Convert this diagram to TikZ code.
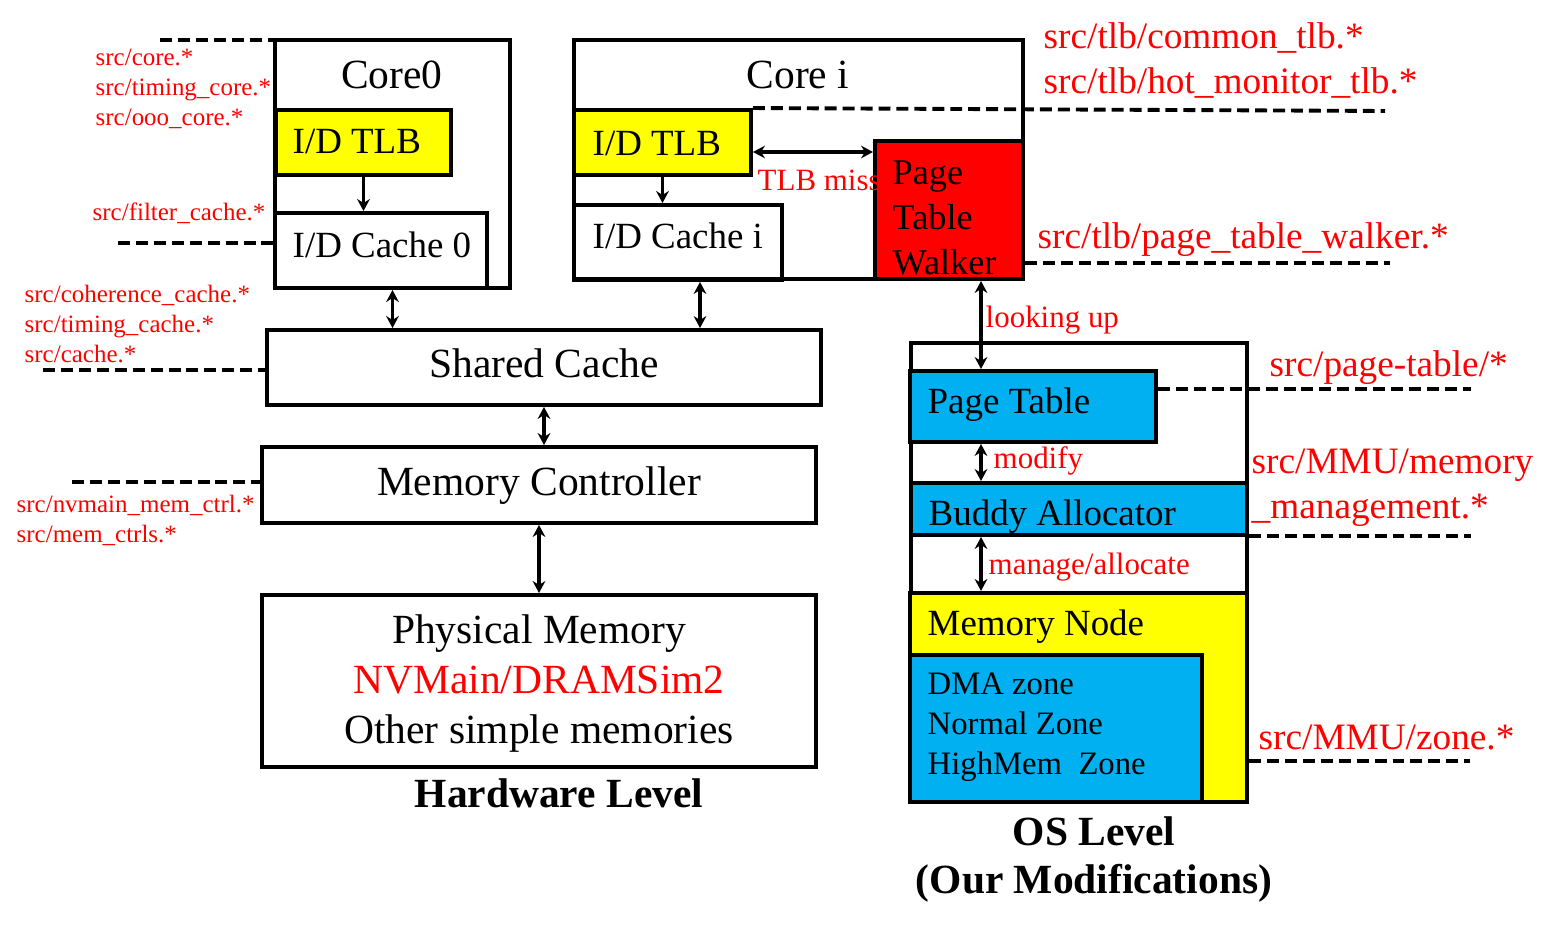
\documentclass[tikz,border=0pt]{standalone}
\usepackage{fontspec}
\setmainfont{Liberation Serif}
\usetikzlibrary{arrows.meta}

\begin{document}
\begin{tikzpicture}[x=0.01cm, y=-0.01cm,
    box/.style={draw=borderColour, line width=1.1pt, inner sep=0pt},
    lbl/.style={inner sep=0pt, font=\fontsize{11.8}{14.2}\selectfont},
    sublbl/.style={inner sep=0pt, anchor=base west, font=\fontsize{10.5}{12.8}\selectfont},
    srcnote/.style={inner sep=0pt, anchor=base west, text=noteColour, font=\fontsize{7.1}{8.5}\selectfont},
    srcbig/.style={inner sep=0pt, anchor=base west, text=noteColour, font=\fontsize{10.6}{12.7}\selectfont},
    actnote/.style={inner sep=0pt, anchor=base west, text=noteColour, font=\fontsize{8.8}{10.5}\selectfont},
    title/.style={inner sep=0pt, anchor=base, font=\fontsize{11.8}{14}\selectfont\bfseries},
    leader/.style={line width=1.1pt, dash pattern=on 3.4pt off 1.7pt},
    arrowlink/.style={line width=1.1pt, -{Stealth[length=3.4pt,width=3.6pt]}},
    duplex/.style={line width=1.1pt, {Stealth[length=3.4pt,width=3.6pt]}-{Stealth[length=3.4pt,width=3.6pt]}}]

    \definecolor{borderColour}{HTML}{000000}
    \definecolor{noteColour}{HTML}{FF0000}
    \definecolor{tlbColour}{HTML}{FFFF00}
    \definecolor{walkerColour}{HTML}{FF0000}
    \definecolor{osColour}{HTML}{00B0F0}

    % Fix the canvas
    \useasboundingbox (0,0) rectangle (1560,931);

    % Draw core 0
    \node[box, minimum width=2.35cm, minimum height=2.48cm] (coreA) at (392.5,164) {};
    \node[lbl, anchor=base] (coreAtext) at (392,89) {Core0};
    \node[box, fill=tlbColour, minimum width=1.75cm, minimum height=0.65cm] (tlbA) at (363.5,142.5) {};
    \node[sublbl] (tlbAtext) at (292,154) {I/D TLB};
    \node[box, minimum width=2.12cm, minimum height=0.75cm] (cacheA) at (381,250.5) {};
    \node[sublbl] (cacheAtext) at (292,258) {I/D Cache 0};
    \draw[arrowlink] (tlbA.south) -- (tlbA.south |- cacheA.north);

    % Draw core i
    \node[box, minimum width=4.49cm, minimum height=2.39cm] (coreB) at (798.5,159.5) {};
    \node[lbl, anchor=base] (coreBtext) at (798,89) {Core i};
    \node[box, fill=tlbColour, minimum width=1.77cm, minimum height=0.65cm] (tlbB) at (662.5,142.5) {};
    \node[sublbl] (tlbBtext) at (592,156) {I/D TLB};
    \node[box, minimum width=2.08cm, minimum height=0.75cm] (cacheB) at (678,242.5) {};
    \node[sublbl] (cacheBtext) at (592,249) {I/D Cache i};
    \node[box, fill=walkerColour, minimum width=1.48cm, minimum height=1.38cm] (walker) at (949,210) {};
    \node[inner sep=0pt, anchor=north west, align=left, font=\fontsize{10.3}{12.8}\selectfont] (walkertext) at (892,160) {Page\\Table\\Walker};
    \draw[arrowlink] (tlbB.south) -- (tlbB.south |- cacheB.north);
    \draw[duplex] ([yshift=-0.095cm]tlbB.east) -- ([yshift=-0.095cm]tlbB.east -| walker.west);
    \node[actnote] (missnote) at (757,191) {TLB miss};

    % Draw shared levels
    \node[box, minimum width=5.54cm, minimum height=0.75cm] (shared) at (544,367.5) {};
    \node[lbl, anchor=base] (sharedtext) at (544,378) {Shared Cache};
    \node[box, minimum width=5.54cm, minimum height=0.76cm] (memctrl) at (539,485) {};
    \node[lbl, anchor=base] (memctrltext) at (539,496) {Memory Controller};
    \node[box, minimum width=5.54cm, minimum height=1.72cm] (phys) at (539,681) {};
    \node[lbl, anchor=north, align=center] (phystext) at (539,614)
        {Physical Memory\\\textcolor{noteColour}{NVMain/DRAMSim2}\\Other simple memories};
    \node[title] (hwtitle) at (559,808) {Hardware Level};

    \draw[duplex] (coreA.south) -- (coreA.south |- shared.north);
    \draw[duplex] ([xshift=0.22cm]cacheB.south) -- ([xshift=0.22cm]cacheB.south |- shared.north);
    \draw[duplex] (shared.south) -- (shared.south |- memctrl.north);
    \draw[duplex] (memctrl.south) -- (phys.north);

    % Draw OS level
    \node[box, minimum width=3.36cm, minimum height=4.59cm] (os) at (1079,572.5) {};
    \node[box, fill=osColour, minimum width=2.46cm, minimum height=0.71cm] (pagetab) at (1033,406.5) {};
    \node[sublbl] (pagetabtext) at (927,414) {Page Table};
    \node[box, fill=osColour, minimum width=3.36cm, minimum height=0.52cm] (buddy) at (1079,509) {};
    \node[sublbl] (buddytext) at (928,526) {Buddy Allocator};
    \node[box, fill=tlbColour, minimum width=3.37cm, minimum height=2.09cm] (memnode) at (1078.5,697.5) {};
    \node[sublbl] (memnodetext) at (927,636) {Memory Node};
    \node[box, fill=osColour, minimum width=2.92cm, minimum height=1.47cm] (zones) at (1056,728.5) {};
    \node[inner sep=0pt, anchor=north west, align=left, font=\fontsize{9.3}{11.4}\selectfont] (zonestext) at (927,672)
        {DMA zone\\Normal Zone\\HighMem~ Zone};
    \node[title] (ostitle) at (1094,846) {OS Level};
    \node[title] (ostitleb) at (1094,894) {(Our Modifications)};

    \coordinate (lane) at (981,0);
    \draw[duplex] (walker.south -| lane) -- (pagetab.north -| lane);
    \node[actnote] (lookupnote) at (985,328) {looking up};
    \draw[duplex] (pagetab.south -| lane) -- (buddy.north -| lane);
    \node[actnote] (modifynote) at (993,469) {modify};
    \draw[duplex] (buddy.south -| lane) -- (memnode.north -| lane);
    \node[actnote] (allocnote) at (988,575) {manage/allocate};

    % Draw source file leaders
    \coordinate (leadcore) at (160,40);
    \coordinate (leadfilter) at (118,243);
    \coordinate (leadcache) at (43,370);
    \coordinate (leadmem) at (72,482);
    \coordinate (leadtlb) at (1385,111);
    \coordinate (leadwalker) at (1390,263);
    \coordinate (leadpt) at (1471,389);
    \coordinate (leadbuddy) at (1471,536);
    \coordinate (leadzone) at (1470,761);

    \draw[leader] (leadcore) -- (leadcore -| coreA.west);
    \draw[leader] (leadfilter) -- (leadfilter -| cacheA.west);
    \draw[leader] (leadcache) -- (leadcache -| shared.west);
    \draw[leader] (leadmem) -- (leadmem -| memctrl.west);
    \draw[leader] (tlbB.north east) -- (leadtlb);
    \draw[leader] (leadwalker -| walker.east) -- (leadwalker);
    \draw[leader] (leadpt -| pagetab.east) -- (leadpt);
    \draw[leader] (leadbuddy -| buddy.east) -- (leadbuddy);
    \draw[leader] (leadzone -| memnode.east) -- (leadzone);

    % Label source files
    \node[srcnote] (srccore) at (95,66) {src/core.*};
    \node[srcnote] (srctiming) at (95,96) {src/timing\_core.*};
    \node[srcnote] (srcooo) at (95,126) {src/ooo\_core.*};
    \node[srcnote] (srcfilter) at (92,221) {src/filter\_cache.*};
    \node[srcnote] (srccoherence) at (24,303) {src/coherence\_cache.*};
    \node[srcnote] (srctimingcache) at (24,333) {src/timing\_cache.*};
    \node[srcnote] (srccache) at (24,363) {src/cache.*};
    \node[srcnote] (srcnvmain) at (16,513) {src/nvmain\_mem\_ctrl.*};
    \node[srcnote] (srcmemctrls) at (16,543) {src/mem\_ctrls.*};
    \node[srcbig] (srccommon) at (1043,49) {src/tlb/common\_tlb.*};
    \node[srcbig] (srchot) at (1043,94) {src/tlb/hot\_monitor\_tlb.*};
    \node[srcbig] (srcwalker) at (1037,249) {src/tlb/page\_table\_walker.*};
    \node[srcbig] (srcpt) at (1269,377) {src/page-table/*};
    \node[srcbig] (srcmmu) at (1251,474) {src/MMU/memory};
    \node[srcbig] (srcmmub) at (1251,519) {\_management.*};
    \node[srcbig] (srczone) at (1258,750) {src/MMU/zone.*};

\end{tikzpicture}
\end{document}
